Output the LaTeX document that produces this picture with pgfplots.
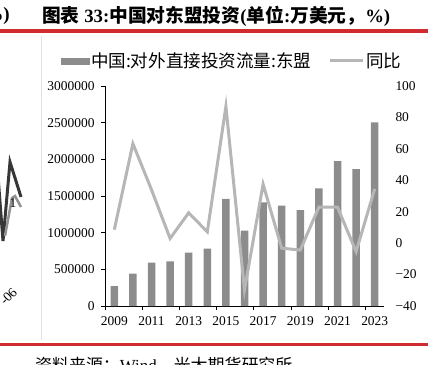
\documentclass[border=0pt]{standalone}
\usepackage{fontspec}
\setmainfont{Liberation Serif}
\newfontfamily\cjk{Noto Sans CJK SC}
\usepackage{pgfplots}
\pgfplotsset{compat=1.18}
\definecolor{barc}{RGB}{140,140,140}
\definecolor{linec}{RGB}{182,182,182}
\definecolor{redl}{RGB}{208,44,48}
\definecolor{darkl}{RGB}{55,55,55}
\begin{document}
\begin{tikzpicture}
\useasboundingbox (0,0) rectangle (435bp,-365bp);
% title and rules
\node[anchor=west, inner sep=0pt, font=\bfseries\fontsize{18.8}{22}\selectfont] at (42bp,-16bp)
  {{\cjk 图表} 33:{\cjk 中国对东盟投资}({\cjk 单位}:{\cjk 万美元，}\%)};
\node[anchor=east, inner sep=0pt, font=\bfseries\fontsize{19}{22}\selectfont] at (10bp,-16bp) {\%)};
\draw[redl, line width=3.5bp] (0bp,-31bp) -- (428bp,-31bp);
\draw[redl, line width=3bp] (0bp,-344bp) -- (428bp,-344bp);
\draw[black!12, line width=0.5bp] (41bp,-36bp) -- (41bp,-340bp);
\node[anchor=north west, inner sep=0pt, font=\fontsize{17}{20}\selectfont] at (35bp,-357bp)
  {{\cjk 资料来源：}Wind{\cjk ，光大期货研究所}};
% fragment of neighbouring chart
\begin{axis}[
  at={(0bp,-300bp)}, anchor=south west, scale only axis,
  width=40bp, height=200bp, xmin=0, xmax=40, ymin=100, ymax=300,
  y dir=reverse, hide axis, clip=false]
\addplot[darkl, line width=3bp] coordinates {(-2,176) (3,241) (10,162) (21,197)};
\addplot[linec!80!black, line width=2.5bp] coordinates {(5,236) (12,198) (15,196) (21,207)};
\end{axis}
\node[font=\fontsize{13.5}{15}\selectfont, inner sep=0pt] at (13bp,-203bp) {1};
\node[anchor=east, rotate=45, inner sep=0pt, font=\fontsize{13.5}{15}\selectfont] at (15bp,-290bp) {-06};
% bars, left axis
\begin{axis}[
  at={(105bp,-306bp)}, anchor=south west, scale only axis,
  width=279bp, height=220bp,
  xmin=2008.5, xmax=2023.5, ymin=0, ymax=3000000,
  axis x line*=bottom, axis y line*=left,
  axis line style={black, line width=0.8bp, -},
  tick style={black, line width=0.8bp},
  tick align=outside, major tick length=4bp,
  xtick={2008.5,2010.5,...,2022.5}, xticklabels={},
  extra x ticks={2009,2011,...,2023},
  extra x tick labels={2009,2011,2013,2015,2017,2019,2021,2023},
  extra x tick style={major tick length=0pt, xticklabel style={yshift=-7bp}},
  ytick={0,500000,...,3000000},
  yticklabels={0,500000,1000000,1500000,2000000,2500000,3000000},
  yticklabel style={xshift=-3bp},
  scaled y ticks=false,
  ticklabel style={font=\fontsize{13.5}{15}\selectfont},
  /pgf/number format/assume math mode=true,
  ybar, bar width=7.5bp]
\addplot[fill=barc, draw=none] coordinates {
 (2009,269700) (2010,440500) (2011,590500) (2012,610000) (2013,726700)
 (2014,780900) (2015,1460400) (2016,1027900) (2017,1411900) (2018,1368000)
 (2019,1309000) (2020,1605000) (2021,1977000) (2022,1868000) (2023,2505000)};
\end{axis}
% line, right axis
\begin{axis}[
  at={(105bp,-306bp)}, anchor=south west, scale only axis,
  width=279bp, height=220bp,
  xmin=2008.5, xmax=2023.5, ymin=-40, ymax=100,
  axis x line=none, axis y line*=right,
  y axis line style={draw=none},
  major tick length=0pt,
  ytick={-40,-20,...,100},
  yticklabels={−40,−20,0,20,40,60,80,100},
  yticklabel style={font=\fontsize{13.5}{15}\selectfont, xshift=8bp},
  legend style={at={(0.455,1.114)}, anchor=center, draw=none, fill=none,
    legend columns=2, font=\cjk\fontsize{17.6}{20}\selectfont,
    /tikz/every even column/.append style={column sep=15bp}},
  legend cell align=left]
\addlegendimage{legend image code/.code={\fill[barc] (0bp,-3bp) rectangle (28bp,3bp);}}
\addlegendentry{中国:对外直接投资流量:东盟}
\addplot[linec, line width=3bp,
  legend image code/.code={\draw[linec, line width=3bp] (0bp,0bp) -- (33bp,0bp);}] coordinates {
 (2009,8.6) (2010,63.3) (2011,34.0) (2012,3.0) (2013,19.3) (2014,7.2)
 (2015,86.9) (2016,-29.7) (2017,37.5) (2018,-3.2) (2019,-4.4) (2020,23.0)
 (2021,22.9) (2022,-5.4) (2023,34.5)};
\addlegendentry{同比}
\end{axis}
\end{tikzpicture}
\end{document}
